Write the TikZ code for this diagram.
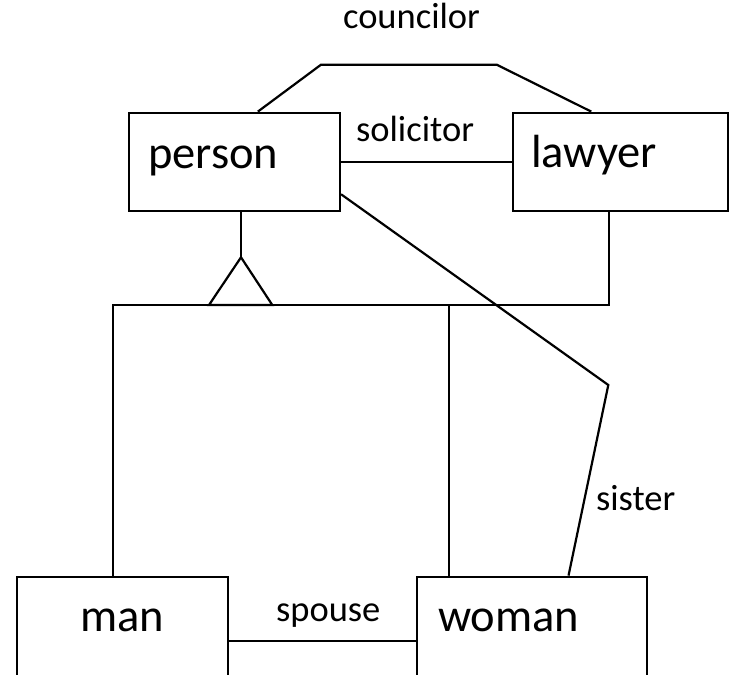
\documentclass[tikz,border=0pt]{standalone}
\usepackage{fontspec}
\setmainfont{Carlito}

\begin{document}
\begin{tikzpicture}[x=1pt, y=-1pt, line width=2.2pt,
  entity/.style={draw, rectangle, inner sep=0pt},
  entityname/.style={anchor=base west, inner sep=0pt, font=\fontsize{46.5}{50}\selectfont},
  rolename/.style={anchor=base west, inner sep=0pt, font=\fontsize{36.5}{40}\selectfont}]
\path[use as bounding box, clip] (0,0) rectangle (730,674);

\node[entity, minimum width=211pt, minimum height=98pt] (person) at (234.5,161.7) {};
\node[entity, minimum width=215pt, minimum height=98pt] (lawyer) at (620.2,161.7) {};
\node[entity, minimum width=211.6pt, minimum height=120pt] (man) at (122.5,636.7) {};
\node[entity, minimum width=230.3pt, minimum height=120pt] (woman) at (531.8,636.7) {};

\node[entityname] (personname) at (147,168) {person};
\node[entityname] (lawyername) at (530,167.7) {lawyer};
\node[entityname] (manname) at (79,631.7) {man};
\node[entityname] (womanname) at (437,631.7) {woman};

\node[rolename] (councilor) at (342,28.3) {councilor};
\node[rolename] (solicitor) at (355,141.7) {solicitor};
\node[rolename] (sister) at (595,510) {sister};
\node[rolename] (spouse) at (275,621.7) {spouse};

\draw (person.65) -- (321,64.7) -- (496.7,64.7) -- (lawyer.120);
\draw (person.east) -- (lawyer.west);
\draw (person.-17) -- (608.3,385) -- (woman.59);

% generalisation
\coordinate (tip) at (241,257.3);
\coordinate (barL) at (112.7,305);
\coordinate (barR) at (609.3,305);
\coordinate (barW) at (449,305);
\draw (tip |- person.south) -- (tip);
\draw (tip) -- (209,305) -- (272.3,305) -- cycle;
\draw (barR |- lawyer.south) -- (barR) -- (barL) -- (barL |- man.north);
\draw (barW) -- (barW |- woman.north);

\coordinate (sp) at (0,641);
\draw (man.east |- sp) -- (woman.west |- sp);
\end{tikzpicture}
\end{document}
